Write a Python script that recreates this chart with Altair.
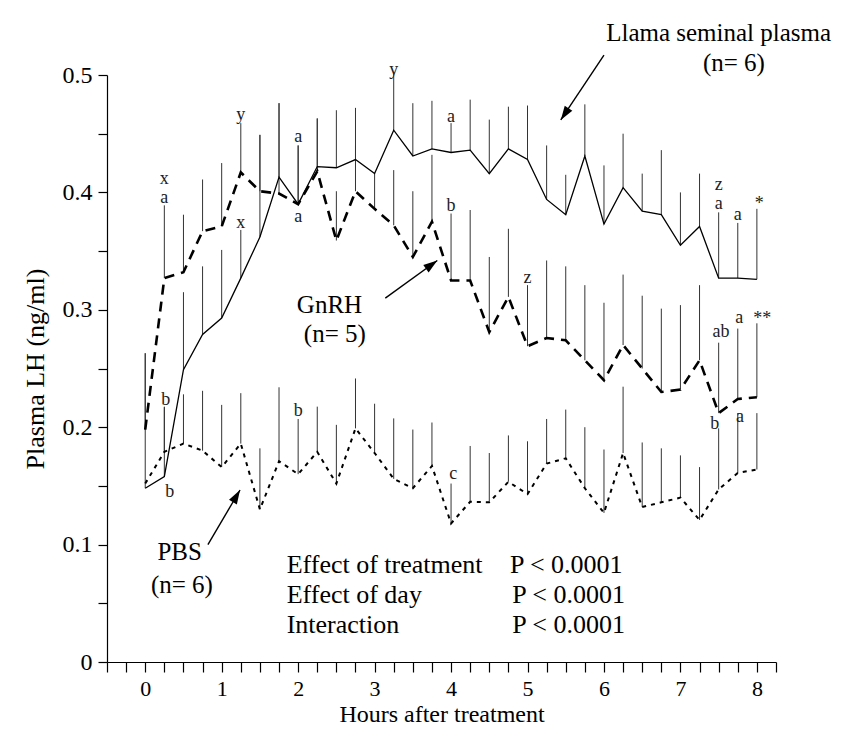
import math
import altair as alt
import pandas as pd

hours = [0.0, 0.25, 0.5, 0.75, 1.0, 1.25, 1.5, 1.75, 2.0, 2.25, 2.5, 2.75, 3.0,
         3.25, 3.5, 3.75, 4.0, 4.25, 4.5, 4.75, 5.0, 5.25, 5.5, 5.75, 6.0, 6.25,
         6.5, 6.75, 7.0, 7.25, 7.5, 7.75, 8.0]

lsp = [0.148, 0.158, 0.249, 0.279, 0.293, 0.327, 0.362, 0.413, 0.390, 0.422, 0.421,
       0.428, 0.416, 0.453, 0.431, 0.437, 0.434, 0.436, 0.416, 0.437, 0.428, 0.394,
       0.381, 0.431, 0.373, 0.404, 0.384, 0.381, 0.355, 0.371, 0.327, 0.327, 0.326]
lsp_top = [0.263, 0.217, 0.315, 0.337, 0.351, 0.368, 0.449, 0.476, 0.440, 0.463, 0.470,
           0.472, 0.416, 0.501, 0.476, 0.478, 0.459, 0.479, 0.462, 0.473, 0.474, 0.440,
           0.415, 0.475, 0.423, 0.450, 0.416, 0.436, 0.400, 0.416, 0.383, 0.374, 0.386]

gnrh = [0.198, 0.327, 0.332, 0.367, 0.371, 0.417, 0.401, 0.399, 0.390, 0.418, 0.359,
        0.401, 0.386, 0.372, 0.345, 0.375, 0.325, 0.325, 0.281, 0.311, 0.269, 0.276,
        0.274, 0.257, 0.240, 0.270, 0.250, 0.230, 0.232, 0.257, 0.212, 0.224, 0.2255]
gnrh_top = [0.263, 0.389, 0.381, 0.411, 0.425, 0.459, 0.449, 0.476, 0.440, 0.463, 0.401,
            0.440, 0.416, 0.419, 0.401, 0.432, 0.382, 0.385, 0.345, 0.369, 0.321, 0.342,
            0.337, 0.321, 0.306, 0.330, 0.312, 0.301, 0.304, 0.321, 0.272, 0.284, 0.2885]

pbs = [0.152, 0.179, 0.186, 0.180, 0.166, 0.186, 0.130, 0.171, 0.160, 0.179, 0.152,
       0.199, 0.178, 0.156, 0.148, 0.167, 0.118, 0.1365, 0.136, 0.1535, 0.143, 0.169,
       0.1735, 0.148, 0.127, 0.178, 0.132, 0.136, 0.140, 0.121, 0.147, 0.161, 0.164]
pbs_top = [0.152, 0.2175, 0.228, 0.231, 0.219, 0.229, 0.182, 0.234, 0.207, 0.2175, 0.202,
           0.2415, 0.220, 0.2075, 0.198, 0.204, 0.152, 0.184, 0.178, 0.193, 0.188, 0.207,
           0.215, 0.200, 0.181, 0.2345, 0.187, 0.182, 0.176, 0.166, 0.199, 0.212, 0.212]

series_names = ["LSP", "GnRH", "PBS"]

# significance letters
letter_text = ["x", "a", "y", "x", "a", "a", "y", "a", "b", "z", "z", "a", "a", "*",
               "ab", "a", "**", "b", "b", "b", "c", "b", "a"]
letter_hour = [0.25, 0.25, 1.25, 1.25, 2.0, 2.0, 3.25, 4.0, 4.0, 5.0, 7.5, 7.5, 7.75, 8.03,
               7.53, 7.77, 8.07, 0.27, 0.32, 2.0, 4.03, 7.45, 7.78]
letter_value = [0.4115, 0.395, 0.466, 0.374, 0.447, 0.379, 0.504, 0.464, 0.388, 0.327,
                0.406, 0.390, 0.381, 0.390, 0.281, 0.293, 0.292, 0.223, 0.145, 0.214,
                0.160, 0.203, 0.209]

# annotation texts
center_text = ["Llama seminal plasma", "(n= 6)", "GnRH", "(n= 5)", "PBS", "(n= 6)"]
center_hour = [7.50, 7.70, 2.41, 2.48, 0.45, 0.48]
center_value = [0.536, 0.510, 0.304, 0.279, 0.094, 0.066]

left_text = ["Effect of treatment", "Effect of day", "Interaction",
             "P < 0.0001", "P < 0.0001", "P < 0.0001"]
left_hour = [1.85, 1.85, 1.85, 4.77, 4.80, 4.80]
left_value = [0.083, 0.057, 0.0315, 0.083, 0.057, 0.0315]

# arrows (tail -> tip)
arrow_tail_hour = [6.00, 3.14, 0.82]
arrow_tail_value = [0.517, 0.310, 0.100]
arrow_tip_hour = [5.435, 3.82, 1.24]
arrow_tip_value = [0.4617, 0.342, 0.1465]

x_ticks = [-0.5, -0.25, 0, 0.25, 0.5, 0.75, 1, 1.25, 1.5, 1.75, 2, 2.25, 2.5, 2.75,
           3, 3.25, 3.5, 3.75, 4, 4.25, 4.5, 4.75, 5, 5.25, 5.5, 5.75, 6, 6.25, 6.5,
           6.75, 7, 7.25, 7.5, 7.75, 8, 8.25]
y_ticks = [0, 0.05, 0.1, 0.15, 0.2, 0.25, 0.3, 0.35, 0.4, 0.45, 0.5]

W, H = 669, 587
X_DOMAIN = [-0.5, 8.25]
Y_DOMAIN = [0, 0.5]
FONT = "Liberation Serif"

rows = []
for name, vals, tops in zip(series_names, [lsp, gnrh, pbs], [lsp_top, gnrh_top, pbs_top]):
    for h, v, t in zip(hours, vals, tops):
        rows.append({"series": name, "hour": h, "value": v, "top": t})
df = pd.DataFrame(rows)

letters_df = pd.DataFrame({"hour": letter_hour, "value": letter_value, "label": letter_text})
center_df = pd.DataFrame({"hour": center_hour, "value": center_value, "label": center_text})
left_df = pd.DataFrame({"hour": left_hour, "value": left_value, "label": left_text})

px_h = W / (X_DOMAIN[1] - X_DOMAIN[0])
px_v = H / (Y_DOMAIN[1] - Y_DOMAIN[0])
angles = []
for th, tv, ph, pv in zip(arrow_tail_hour, arrow_tail_value, arrow_tip_hour, arrow_tip_value):
    dx = (ph - th) * px_h
    dy = -(pv - tv) * px_v
    angles.append(math.degrees(math.atan2(dx, -dy)) % 360)
arrows_df = pd.DataFrame({"hour": arrow_tail_hour, "value": arrow_tail_value,
                          "hour2": arrow_tip_hour, "value2": arrow_tip_value})
heads_df = pd.DataFrame({"hour": arrow_tip_hour, "value": arrow_tip_value, "angle": angles})

x_enc = alt.X("hour:Q",
              scale=alt.Scale(domain=X_DOMAIN, nice=False, zero=False),
              axis=alt.Axis(values=x_ticks, tickCount=60,
                            labelExpr="(datum.value >= 0 && datum.value % 1 == 0) ? format(datum.value, 'd') : ''",
                            labelOverlap=False, labelFlush=False,
                            tickSize=10, labelPadding=6, labelFontSize=22,
                            title="Hours after treatment", titleY=52, titleFontSize=24,
                            titleBaseline="middle"))
y_enc = alt.Y("value:Q",
              scale=alt.Scale(domain=Y_DOMAIN, nice=False),
              axis=alt.Axis(values=y_ticks, tickCount=30,
                            labelExpr="(round(datum.value * 100) % 10 == 0) ? (datum.value == 0 ? '0' : format(datum.value, '.1f')) : ''",
                            labelOverlap=False, labelFlush=False,
                            tickSize=9, labelPadding=6, labelFontSize=24,
                            title="Plasma LH (ng/ml)", titlePadding=14, titleFontSize=26))

base = alt.Chart(df)
bars = base.mark_rule(color="#333333", strokeWidth=1).encode(x=x_enc, y=y_enc, y2="top:Q")

lsp_line = base.transform_filter(alt.datum.series == "LSP").mark_line(
    color="black", strokeWidth=1.3).encode(x="hour:Q", y="value:Q", order="hour:Q")
gnrh_line = base.transform_filter(alt.datum.series == "GnRH").mark_line(
    color="black", strokeWidth=2.6, strokeDash=[10, 7]).encode(x="hour:Q", y="value:Q", order="hour:Q")
pbs_line = base.transform_filter(alt.datum.series == "PBS").mark_line(
    color="black", strokeWidth=2.0, strokeDash=[4, 5]).encode(x="hour:Q", y="value:Q", order="hour:Q")

letters = alt.Chart(letters_df).mark_text(
    font=FONT, fontSize=18, color="#222222", align="center", baseline="middle").encode(
    x="hour:Q", y="value:Q", text="label:N")

center_txt = alt.Chart(center_df).mark_text(
    font=FONT, fontSize=25, color="black", align="center", baseline="middle").encode(
    x="hour:Q", y="value:Q", text="label:N")
left_txt = alt.Chart(left_df).mark_text(
    font=FONT, fontSize=26, color="black", align="left", baseline="middle").encode(
    x="hour:Q", y="value:Q", text="label:N")

arrow_lines = alt.Chart(arrows_df).mark_rule(color="black", strokeWidth=1.4).encode(
    x="hour:Q", y="value:Q", x2="hour2:Q", y2="value2:Q")
arrow_heads = alt.Chart(heads_df).mark_point(
    shape="M0,0 L0.26,0.8 L-0.26,0.8 Z", filled=True, size=1225, color="black",
    opacity=1, strokeWidth=0).encode(
    x="hour:Q", y="value:Q", angle=alt.Angle("angle:Q", scale=None))

chart = alt.layer(bars, lsp_line, gnrh_line, pbs_line, letters, center_txt, left_txt,
                  arrow_lines, arrow_heads).properties(
    width=W, height=H,
    autosize=alt.AutoSizeParams(type="none"),
    padding={"left": 99, "top": 67, "right": 58, "bottom": 72},
    background="white",
).configure_view(stroke=None).configure_axis(
    grid=False, domainColor="black", tickColor="black", domainWidth=1.2, tickWidth=1.2,
    labelFont=FONT, labelColor="black",
    titleFont=FONT, titleColor="black", titleFontWeight="normal",
)

chart.save("out.html", embed_options={"renderer": "svg", "actions": False})
